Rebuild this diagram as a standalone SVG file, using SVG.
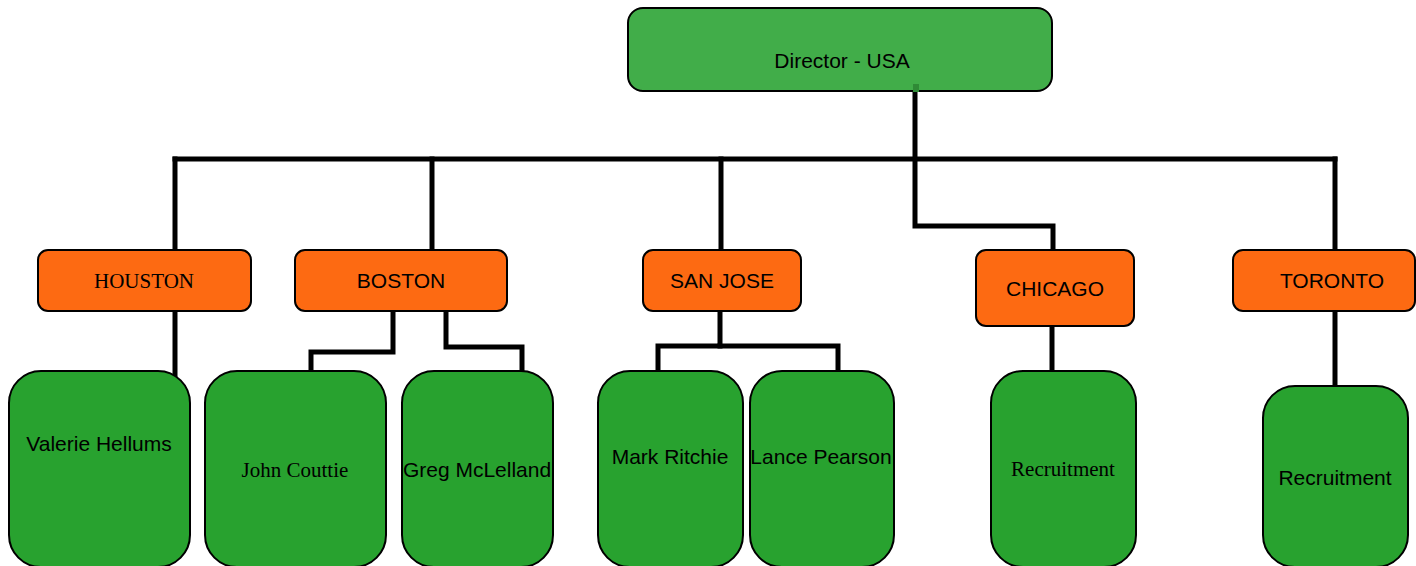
<svg xmlns="http://www.w3.org/2000/svg" width="1416" height="566" viewBox="0 0 1416 566">
<style>
.top{fill:#41ad49;stroke:#000;stroke-width:2}
.city{fill:#fd6a12;stroke:#000;stroke-width:2}
.leaf{fill:#28a22f;stroke:#000;stroke-width:2}
.sans{font-family:"Liberation Sans",Arial,sans-serif;font-size:21px;fill:#000;text-anchor:middle}
.serif{font-family:"Liberation Serif","Times New Roman",serif;font-size:21px;fill:#000;text-anchor:middle}
.conn{fill:none;stroke:#000;stroke-width:5;stroke-linejoin:miter;stroke-linecap:square}
</style>
<rect width="1416" height="566" fill="#fff"/>
<g id="connectors">
<path class="conn" d="M175,159 H1335"/>
<path class="conn" d="M175,159 V250"/>
<path class="conn" d="M432,159 V250"/>
<path class="conn" d="M721,159 V250"/>
<path class="conn" d="M1335,159 V250"/>
<path class="conn" d="M915,92 V226 H1053 V250"/>
<path class="conn" d="M175,311 V376"/>
<path class="conn" d="M393,311 V352 H311 V371"/>
<path class="conn" d="M446,311 V347 H522 V371"/>
<path class="conn" d="M720,311 V346 H658 V371"/>
<path class="conn" d="M720,346 H838 V371"/>
<path class="conn" d="M1052,326 V371"/>
<path class="conn" d="M1335,311 V386"/>
</g>
<g id="director">
<rect class="top" x="628" y="8" width="424" height="83" rx="15"/>
<rect x="913" y="84" width="6" height="8" fill="#2f8a36"/>
<text class="sans" x="842" y="68">Director - USA</text>
</g>
<g id="houston">
<rect class="city" x="38" y="250" width="213" height="61" rx="10"/>
<text class="serif" x="144" y="288">HOUSTON</text>
</g>
<g id="boston">
<rect class="city" x="295" y="250" width="212" height="61" rx="10"/>
<text class="sans" x="401" y="288">BOSTON</text>
</g>
<g id="sanjose">
<rect class="city" x="643" y="250" width="158" height="61" rx="10"/>
<text class="sans" x="722" y="288">SAN JOSE</text>
</g>
<g id="chicago">
<rect class="city" x="976" y="250" width="158" height="76" rx="10"/>
<text class="sans" x="1055" y="296">CHICAGO</text>
</g>
<g id="toronto">
<rect class="city" x="1233" y="250" width="182" height="61" rx="10"/>
<text class="sans" x="1332" y="288">TORONTO</text>
</g>
<g id="valerie">
<rect class="leaf" x="9" y="371" width="181" height="196" rx="32"/>
<text class="sans" x="99" y="451">Valerie Hellums</text>
</g>
<g id="john">
<rect class="leaf" x="205" y="371" width="181" height="196" rx="32"/>
<text class="serif" x="295" y="477">John Couttie</text>
</g>
<g id="greg">
<rect class="leaf" x="402" y="371" width="151" height="196" rx="32"/>
<text class="sans" x="477" y="477">Greg McLelland</text>
</g>
<g id="mark">
<rect class="leaf" x="598" y="371" width="145" height="196" rx="32"/>
<text class="sans" x="670" y="464">Mark Ritchie</text>
</g>
<g id="lance">
<rect class="leaf" x="750" y="371" width="144" height="196" rx="32"/>
<text class="sans" x="821" y="464">Lance Pearson</text>
</g>
<g id="chicago-recruitment">
<rect class="leaf" x="991" y="371" width="145" height="196" rx="32"/>
<text class="serif" x="1063" y="476">Recruitment</text>
</g>
<g id="toronto-recruitment">
<rect class="leaf" x="1263" y="386" width="145" height="181" rx="32"/>
<text class="sans" x="1335" y="485">Recruitment</text>
</g>
</svg>
